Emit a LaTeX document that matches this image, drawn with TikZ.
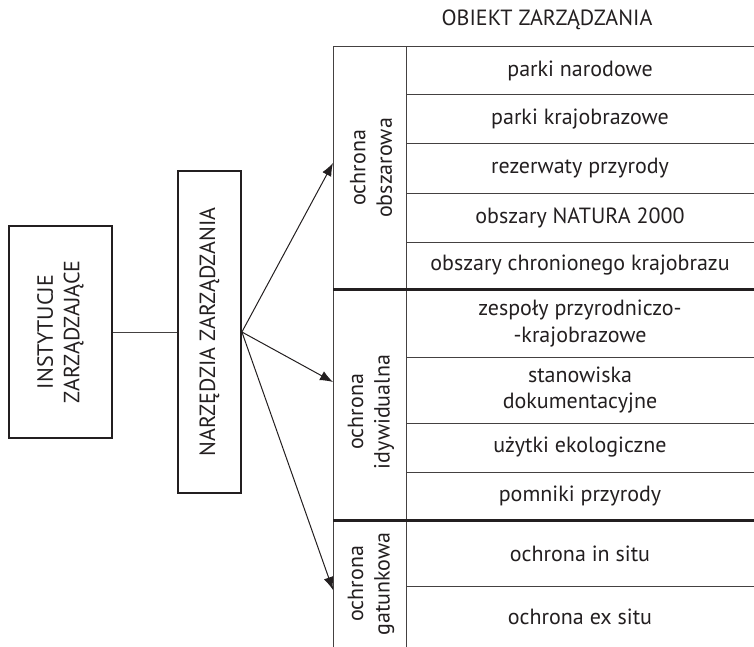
\documentclass[tikz,border=0pt]{standalone}
\usepackage{fontspec}
\setmainfont{PT Sans}
\usetikzlibrary{arrows.meta}
\definecolor{ink}{HTML}{231F20}
\begin{document}
\begin{tikzpicture}[x=1pt,y=-1pt,
  txt/.style={text=ink,font=\fontsize{22}{26.5}\selectfont,align=center,inner sep=0pt},
  vtxt/.style={txt,rotate=90},
  boxline/.style={draw=ink,line width=1.8pt},
  thin/.style={draw=ink!85,line width=1pt},
  thick/.style={draw=ink,line width=2.6pt},
  arr/.style={draw=ink,line width=1pt,-{Latex[length=13pt,width=10pt]}}]
\useasboundingbox (0,0) rectangle (754,647);
% left boxes
\node[boxline,minimum width=103pt,minimum height=212pt,inner sep=0pt] (inst) at (60.5,332) {};
\node[vtxt] (instt) at (inst.center) {INSTYTUCJE\\ZARZĄDZAJĄCE};
\node[boxline,minimum width=63pt,minimum height=322pt,inner sep=0pt] (narz) at (209.5,332) {};
\node[vtxt] (narzt) at (narz.center) {NARZĘDZIA ZARZĄDZANIA};
\draw[thin] (inst.east) -- (narz.west);
% arrow targets
\coordinate (a1) at (333,163);
\coordinate (a2) at (333,382);
\coordinate (a3) at (333,590);
\draw[arr] (narz.east) -- (a1);
\draw[arr] (narz.east) -- (a2);
\draw[arr] (narz.east) -- (a3);
% header
\node[txt] (head) at (547,20) {OBIEKT ZARZĄDZANIA};
% table frame
\coordinate (tl) at (333,47);
\coordinate (tr) at (754,47);
\coordinate (bl) at (333,647);
\coordinate (il) at (406,47);
\coordinate (ib) at (406,647);
\draw[thin] (bl) -- (tl) -- (tr);
\draw[thin] (il) -- (ib);
% thin row lines
\foreach \yy in {95,144,193,242,357,423,472,586}{
  \draw[thin] (406,\yy) -- (754,\yy);
}
\draw[thick] (333,289.5) -- (754,289.5);
\draw[thick] (333,520.5) -- (754,520.5);
% left column labels
\node[vtxt] (g1) at (371,168) {ochrona\\obszarowa};
\node[vtxt] (g2) at (371,412) {ochrona\\idywidualna};
\node[vtxt] (g3) at (371,584) {ochrona\\gatunkowa};
% rows
\node[txt] (r1) at (580,71) {parki narodowe};
\node[txt] (r2) at (580,119.5) {parki krajobrazowe};
\node[txt] (r3) at (580,168.5) {rezerwaty przyrody};
\node[txt] (r4) at (580,217.5) {obszary NATURA 2000};
\node[txt] (r5) at (580,265.5) {obszary chronionego krajobrazu};
\node[txt] (r6) at (580,323.5) {zespoły przyrodniczo-\\-krajobrazowe};
\node[txt] (r7) at (580,390) {stanowiska\\dokumentacyjne};
\node[txt] (r8) at (580,447.5) {użytki ekologiczne};
\node[txt] (r9) at (580,496) {pomniki przyrody};
\node[txt] (r10) at (580,553.5) {ochrona in situ};
\node[txt] (r11) at (580,616.5) {ochrona ex situ};
\end{tikzpicture}
\end{document}
